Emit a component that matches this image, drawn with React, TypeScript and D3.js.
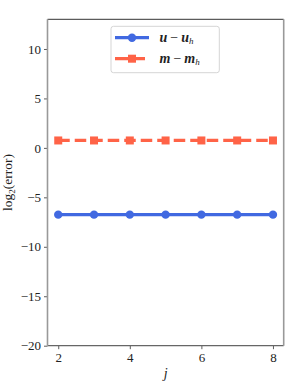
import React, { useEffect, useRef } from "react";
import * as d3 from "d3";

// levels j and log2 of the error for each field
const levels = [2, 3, 4, 5, 6, 7, 8];
const uErr = [-6.75, -6.75, -6.75, -6.75, -6.75, -6.75, -6.75];
const mErr = [0.75, 0.75, 0.75, 0.75, 0.75, 0.75, 0.75];
const yTicks = [-20, -15, -10, -5, 0, 5, 10];
const xTicks = [2, 4, 6, 8];

const W = 299,
  H = 389;
const blue = "#4169e1";
const red = "#ff6347";
const font = "Liberation Serif, DejaVu Serif, serif";

const App = () => {
  const svgRef = useRef<SVGSVGElement>(null);

  useEffect(() => {
    const svg = d3.select(svgRef.current);
    svg.selectAll("*").remove();

    const left = 47.5,
      right = 283.7,
      top = 19.3,
      bottom = 345.7;

    const x = d3.scaleLinear().domain([1.7, 8.3]).range([left, right]);
    const y = d3.scaleLinear().domain([-20, 13]).range([bottom, top]);

    svg.append("rect").attr("width", W).attr("height", H).attr("fill", "white");

    // axes
    const yAxis = svg
      .append("g")
      .attr("transform", `translate(${left},0)`)
      .call(
        d3
          .axisLeft(y)
          .tickValues(yTicks)
          .tickSize(3.5)
          .tickPadding(3)
          .tickFormat((d) => String(d).replace("-", "\u2212"))
      );
    const xAxis = svg
      .append("g")
      .attr("transform", `translate(0,${bottom})`)
      .call(d3.axisBottom(x).tickValues(xTicks).tickSize(3.5).tickPadding(4).tickFormat(d3.format("d")));
    [yAxis, xAxis].forEach((g) => {
      g.attr("font-family", null);
      g.select(".domain").remove();
      g.selectAll("line").attr("stroke", "#333").attr("stroke-width", 0.8);
      g.selectAll("text")
        .style("font-family", font)
        .style("font-size", "13px")
        .attr("fill", "#222");
    });

    // spines
    svg.append("line").attr("x1", left).attr("x2", right).attr("y1", top).attr("y2", top).attr("stroke", "#333").attr("stroke-width", 1);
    svg.append("line").attr("x1", left).attr("x2", right).attr("y1", bottom).attr("y2", bottom).attr("stroke", "#666").attr("stroke-width", 1.2);
    svg.append("line").attr("x1", left).attr("x2", left).attr("y1", top).attr("y2", bottom).attr("stroke", "#999").attr("stroke-width", 1.6);
    svg.append("line").attr("x1", right).attr("x2", right).attr("y1", top).attr("y2", bottom).attr("stroke", "#999").attr("stroke-width", 1.6);

    const line = d3
      .line<number>()
      .x((d, i) => x(levels[i]))
      .y((d) => y(d));

    // m - m_h : dashed with squares
    svg
      .append("path")
      .datum(mErr)
      .attr("d", line)
      .attr("fill", "none")
      .attr("stroke", red)
      .attr("stroke-width", 3.2)
      .attr("stroke-dasharray", "11.5,5");
    svg
      .append("g")
      .selectAll("rect")
      .data(mErr)
      .enter()
      .append("rect")
      .attr("x", (d, i) => x(levels[i]) - 4)
      .attr("y", (d) => y(d) - 4)
      .attr("width", 8)
      .attr("height", 8)
      .attr("fill", red);

    // u - u_h : solid with circles
    svg
      .append("path")
      .datum(uErr)
      .attr("d", line)
      .attr("fill", "none")
      .attr("stroke", blue)
      .attr("stroke-width", 3.2);
    svg
      .append("g")
      .selectAll("circle")
      .data(uErr)
      .enter()
      .append("circle")
      .attr("cx", (d, i) => x(levels[i]))
      .attr("cy", (d) => y(d))
      .attr("r", 4.2)
      .attr("fill", blue);

    // axis labels
    svg
      .append("text")
      .attr("transform", `translate(12,${(top + bottom) / 2}) rotate(-90)`)
      .attr("text-anchor", "middle")
      .style("font-family", font)
      .style("font-size", "13.5px")
      .attr("fill", "#222")
      .call((t) => {
        t.append("tspan").text("log");
        t.append("tspan").style("font-size", "9px").attr("dy", 3).text("2");
        t.append("tspan").attr("dy", -3).text("(error)");
      });
    svg
      .append("text")
      .attr("x", (left + right) / 2)
      .attr("y", 378)
      .attr("text-anchor", "middle")
      .style("font-family", font)
      .style("font-style", "italic")
      .style("font-size", "14px")
      .attr("fill", "#222")
      .text("j");

    // legend
    const lg = svg.append("g");
    lg.append("rect")
      .attr("x", 111)
      .attr("y", 26.3)
      .attr("width", 108.3)
      .attr("height", 46.4)
      .attr("rx", 2.5)
      .attr("fill", "white")
      .attr("fill-opacity", 0.8)
      .attr("stroke", "#d5d5d5")
      .attr("stroke-width", 1);
    const rows = [
      { name: "u", color: blue, dash: null, shape: "circle", yy: 37.7 },
      { name: "m", color: red, dash: "11.5,5", shape: "square", yy: 58.7 },
    ];
    rows.forEach((r) => {
      lg.append("line")
        .attr("x1", 115)
        .attr("x2", 149)
        .attr("y1", r.yy)
        .attr("y2", r.yy)
        .attr("stroke", r.color)
        .attr("stroke-width", 3.2)
        .attr("stroke-dasharray", r.dash ? "13,4" : null);
      if (r.shape === "circle") {
        lg.append("circle").attr("cx", 132).attr("cy", r.yy).attr("r", 4.2).attr("fill", r.color);
      } else {
        lg.append("rect").attr("x", 128).attr("y", r.yy - 4).attr("width", 8).attr("height", 8).attr("fill", r.color);
      }
      const t = lg
        .append("text")
        .attr("x", 159.5)
        .attr("y", r.yy + 4)
        .style("font-family", font)
        .style("font-size", "14px")
        .style("white-space", "pre")
        .attr("fill", "#222");
      t.append("tspan").style("font-weight", "bold").style("font-style", "italic").text(r.name);
      t.append("tspan").attr("dx", 3).text("\u2212");
      t.append("tspan").attr("dx", 3).style("font-weight", "bold").style("font-style", "italic").text(r.name);
      t.append("tspan").style("font-size", "9px").style("font-style", "italic").attr("dy", 2.5).text("h");
    });
  }, []);

  return (
    <svg
      ref={svgRef}
      width={W}
      height={H}
      style={{ position: "absolute", left: 0, top: 0, display: "block" }}
    ></svg>
  );
};

export default App;
